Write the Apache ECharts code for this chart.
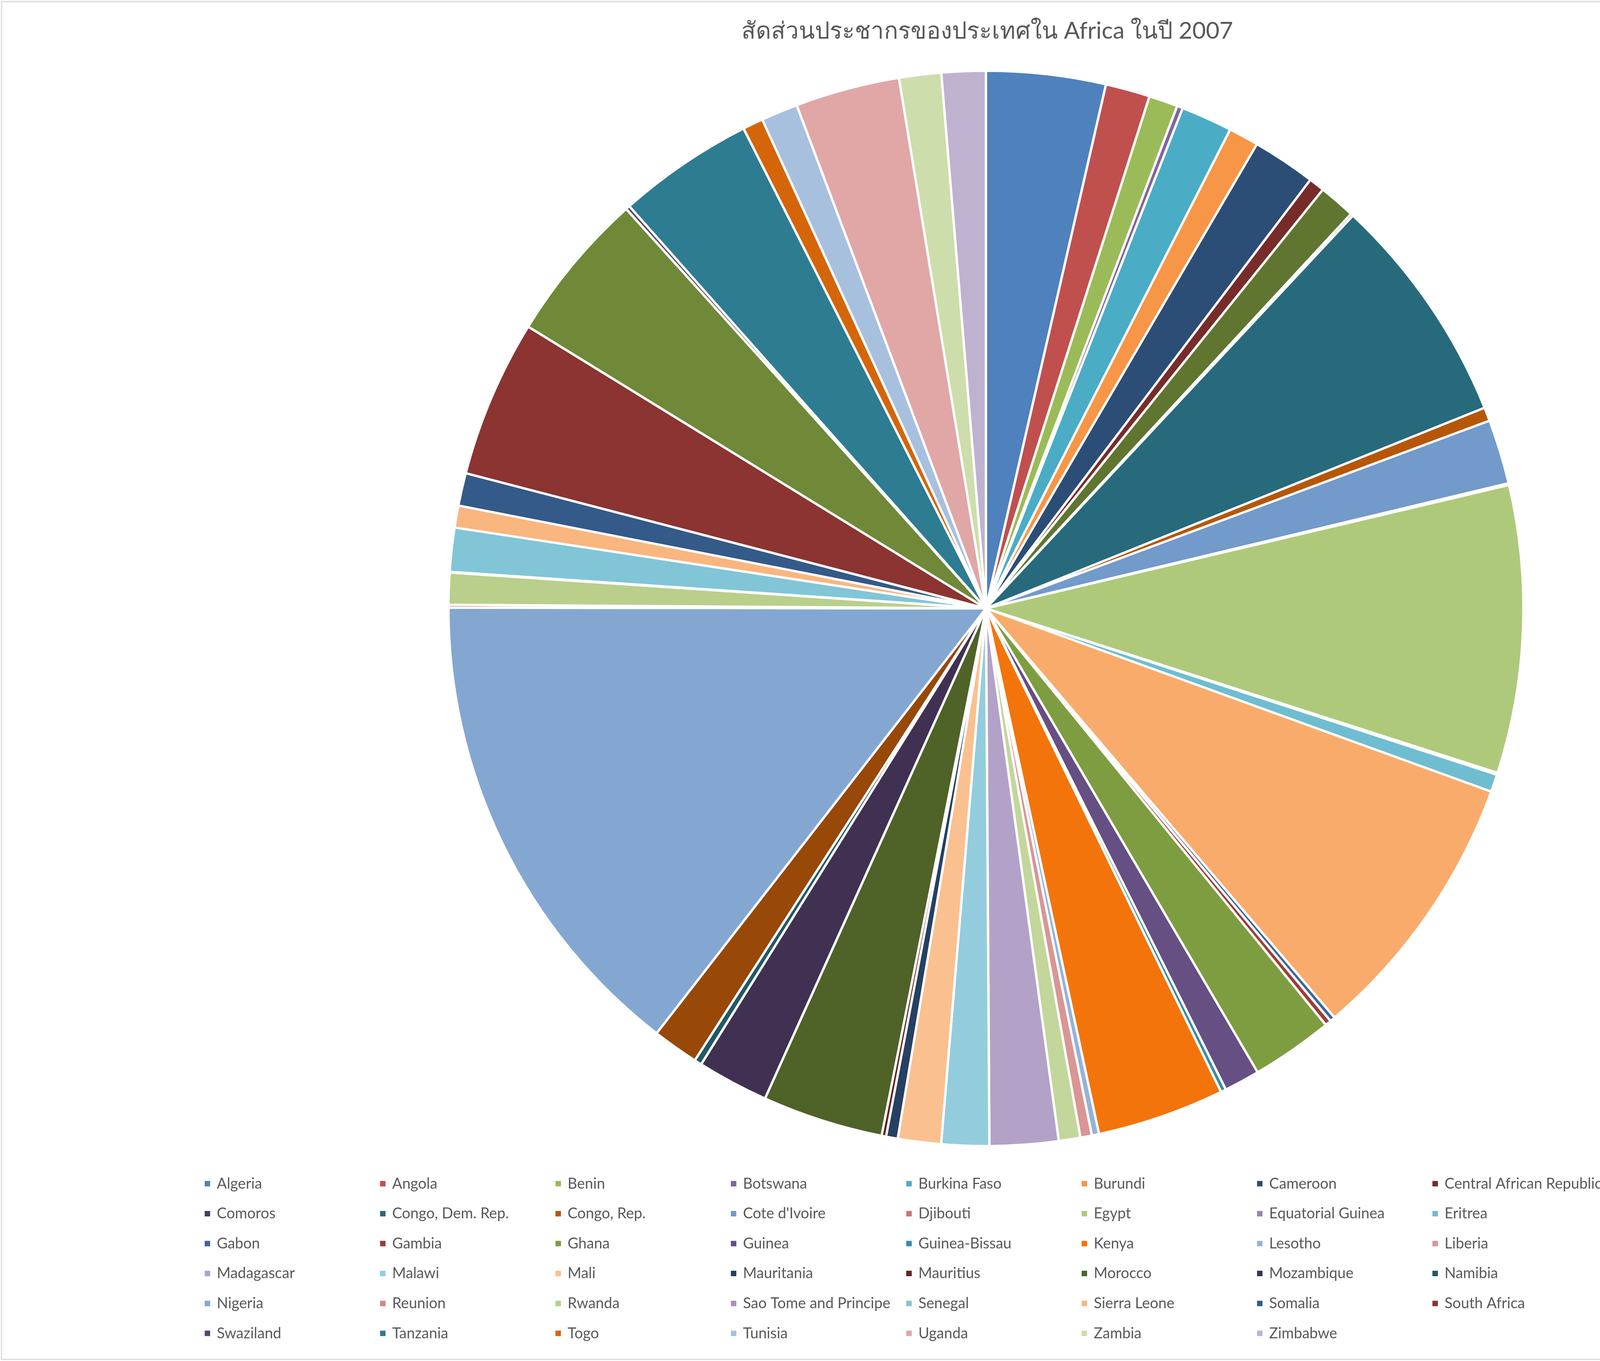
<!DOCTYPE html>
<html>
<head>
<meta charset="utf-8">
<script src="https://cdn.jsdelivr.net/npm/echarts@6/dist/echarts.min.js"></script>
<style>
html,body{margin:0;padding:0;background:#fff;}
#chart{width:5055px;height:3483px;}
</style>
</head>
<body>
<div id="chart"></div>
<script>
// ---- Data ----
const titleText = 'สัดส่วนประชากรของประเทศใน Africa ในปี 2007';
const countries = ['Algeria','Angola','Benin','Botswana','Burkina Faso','Burundi','Cameroon','Central African Republic','Chad','Comoros','Congo, Dem. Rep.','Congo, Rep.','Cote d\'Ivoire','Djibouti','Egypt','Equatorial Guinea','Eritrea','Ethiopia','Gabon','Gambia','Ghana','Guinea','Guinea-Bissau','Kenya','Lesotho','Liberia','Libya','Madagascar','Malawi','Mali','Mauritania','Mauritius','Morocco','Mozambique','Namibia','Niger','Nigeria','Reunion','Rwanda','Sao Tome and Principe','Senegal','Sierra Leone','Somalia','South Africa','Sudan','Swaziland','Tanzania','Togo','Tunisia','Uganda','Zambia','Zimbabwe'];
const population = [33333216,12420476,8078314,1639131,14326203,8390505,17696293,4369038,10238807,710960,64606759,3800610,18013409,496374,80264543,551201,4906585,76511887,1454867,1688359,22873338,9947814,1472041,35610177,2012649,3193942,6036914,19167654,13327079,12031795,3270065,1250882,33757175,19951656,2055080,12894865,135031164,798094,8860588,199579,12267493,6144562,9118773,43997828,42292929,1133066,38139640,5701579,10276158,29170398,11746035,12311143];

// ---- Excel-like palette: accents with luminance variations ----
const accents = ['#4F81BD','#C0504D','#9BBB59','#8064A2','#4BACC6','#F79646'];
const variations = [[1,0],[0.6,0],[0.8,0.2],[0.8,0],[0.6,0.4],[0.5,0],[0.7,0.3],[0.7,0],[0.5,0.5]];
function hexToHsl(hex){
  const r=parseInt(hex.substr(1,2),16)/255,g=parseInt(hex.substr(3,2),16)/255,b=parseInt(hex.substr(5,2),16)/255;
  const mx=Math.max(r,g,b),mn=Math.min(r,g,b),l=(mx+mn)/2;let h=0,s=0;
  if(mx!==mn){const d=mx-mn;s=d/(1-Math.abs(2*l-1));
    if(mx===r)h=60*(((g-b)/d)%6);else if(mx===g)h=60*((b-r)/d+2);else h=60*((r-g)/d+4);}
  if(h<0)h+=360;return [h,s,l];
}
function hslToHex(h,s,l){
  const c=(1-Math.abs(2*l-1))*s,x=c*(1-Math.abs((h/60)%2-1)),m=l-c/2;let r,g,b;
  if(h<60){r=c;g=x;b=0;}else if(h<120){r=x;g=c;b=0;}else if(h<180){r=0;g=c;b=x;}
  else if(h<240){r=0;g=x;b=c;}else if(h<300){r=x;g=0;b=c;}else{r=c;g=0;b=x;}
  const f=v=>Math.round(Math.min(1,Math.max(0,v+m))*255).toString(16).padStart(2,'0');
  return '#'+f(r)+f(g)+f(b);
}
const palette = countries.map((_,i)=>{
  const [h,s,l]=hexToHsl(accents[i%6]);const v=variations[Math.floor(i/6)];
  return hslToHex(h,s,Math.min(1,l*v[0]+v[1]));
});

// legend laid out as 9 columns (row-major order like the reference)
const nCols = 9;
const legends = [];
for (let j = 0; j < nCols; j++) {
  legends.push({
    left: 522 + 449 * j, top: 2996, padding: 0,
    orient: 'vertical', icon: 'rect', itemWidth: 16, itemHeight: 16, itemGap: 10,
    textStyle: {fontSize: 38, color: '#595959', fontFamily: 'Lato, sans-serif', lineHeight: 66.6, padding: [0,0,0,11]},
    data: countries.filter((_, i) => i % nCols === j)
  });
}

const chart = echarts.init(document.getElementById('chart'));
chart.setOption({
  animation:false,
  backgroundColor:'#ffffff',
  color: palette,
  title:{
    text:titleText,left:'center',top:45,
    textStyle:{fontSize:60,fontWeight:'normal',color:'#595959',fontFamily:'Lato, "Noto Sans", sans-serif'}
  },
  legend: legends,
  graphic:[{type:'rect',shape:{x:4,y:4,width:5047,height:3475},style:{fill:'none',stroke:'#d9d9d9',lineWidth:3},silent:true}],
  series:[{
    type:'pie',center:[2524,1557],radius:1376,startAngle:90,clockwise:true,
    label:{show:false},labelLine:{show:false},
    itemStyle:{borderColor:'#ffffff',borderWidth:6},
    emphasis:{disabled:true},
    data:countries.map((c,i)=>({name:c,value:population[i]}))
  }]
});
</script>
</body>
</html>
